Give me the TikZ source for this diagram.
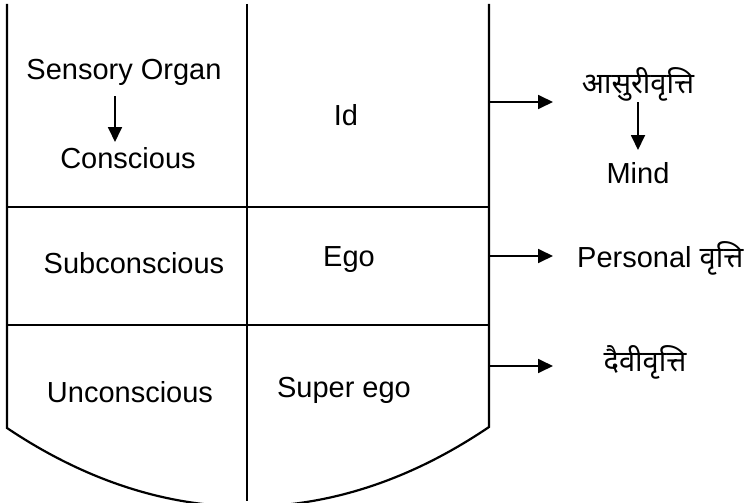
\documentclass[tikz,border=0pt]{standalone}
\usepackage{fontspec}
\setmainfont{Liberation Sans}
\newfontfamily\deva[Script=Devanagari]{Noto Sans}
\usepackage{tikz}
\usetikzlibrary{arrows.meta}

\begin{document}
\begin{tikzpicture}[
  x=1pt,y=-1pt,
  every node/.style={font=\fontsize{29}{34}\selectfont,inner sep=0pt},
  wall/.style={line width=2.2pt},
  ar/.style={-{Triangle[length=15pt,width=14pt]},line width=1.8pt}]
  \useasboundingbox (0,0) rectangle (747,503);

  % --- frame corners: left wall, middle wall, right wall
  \coordinate (tl) at (7,4);    \coordinate (bl) at (7,428);
  \coordinate (tm) at (247,4);  \coordinate (bm) at (247,501);
  \coordinate (tr) at (489,4);  \coordinate (br) at (489,427);
  \coordinate (l1) at (7,207);  \coordinate (r1) at (489,207);
  \coordinate (l2) at (7,325);  \coordinate (r2) at (489,325);

  \draw[wall] (tl) -- (bl) to[bend right=34] (br) -- (tr);
  \draw[wall] (tm) -- (bm);
  \draw[wall] (l1) -- (r1);
  \draw[wall] (l2) -- (r2);

  % --- left column
  \node (sens) at (124,72)  {Sensory Organ};
  \node (cons) at (128,158) {Conscious};
  \node (sub)  at (134,263) {Subconscious};
  \node (unc)  at (130,392) {Unconscious};
  \draw[ar] (115,96) coordinate (s0) -- (115,142) coordinate (s1);

  % --- middle column
  \node (id)  at (346,115) {Id};
  \node (ego) at (349,260) {Ego};
  \node (sup) at (344,390) {Super ego};

  % --- right side: outcomes
  \coordinate (a1) at (489,102);  \coordinate (b1) at (553,102);
  \coordinate (a2) at (489,256);  \coordinate (b2) at (553,256);
  \coordinate (a3) at (489,366);  \coordinate (b3) at (553,366);
  \draw[ar] (a1) -- (b1);
  \draw[ar] (a2) -- (b2);
  \draw[ar] (a3) -- (b3);

  \node (asuri) at (638,84)  {\deva आसुरीवृत्ति};
  \node (mind)  at (638,173) {Mind};
  \node[anchor=west] (pers) at (577,258) {Personal {\deva वृत्ति}};
  \node (daivi) at (645,362) {\deva दैवीवृत्ति};
  \draw[ar] (638,102) coordinate (m0) -- (638,150) coordinate (m1);
\end{tikzpicture}
\end{document}
